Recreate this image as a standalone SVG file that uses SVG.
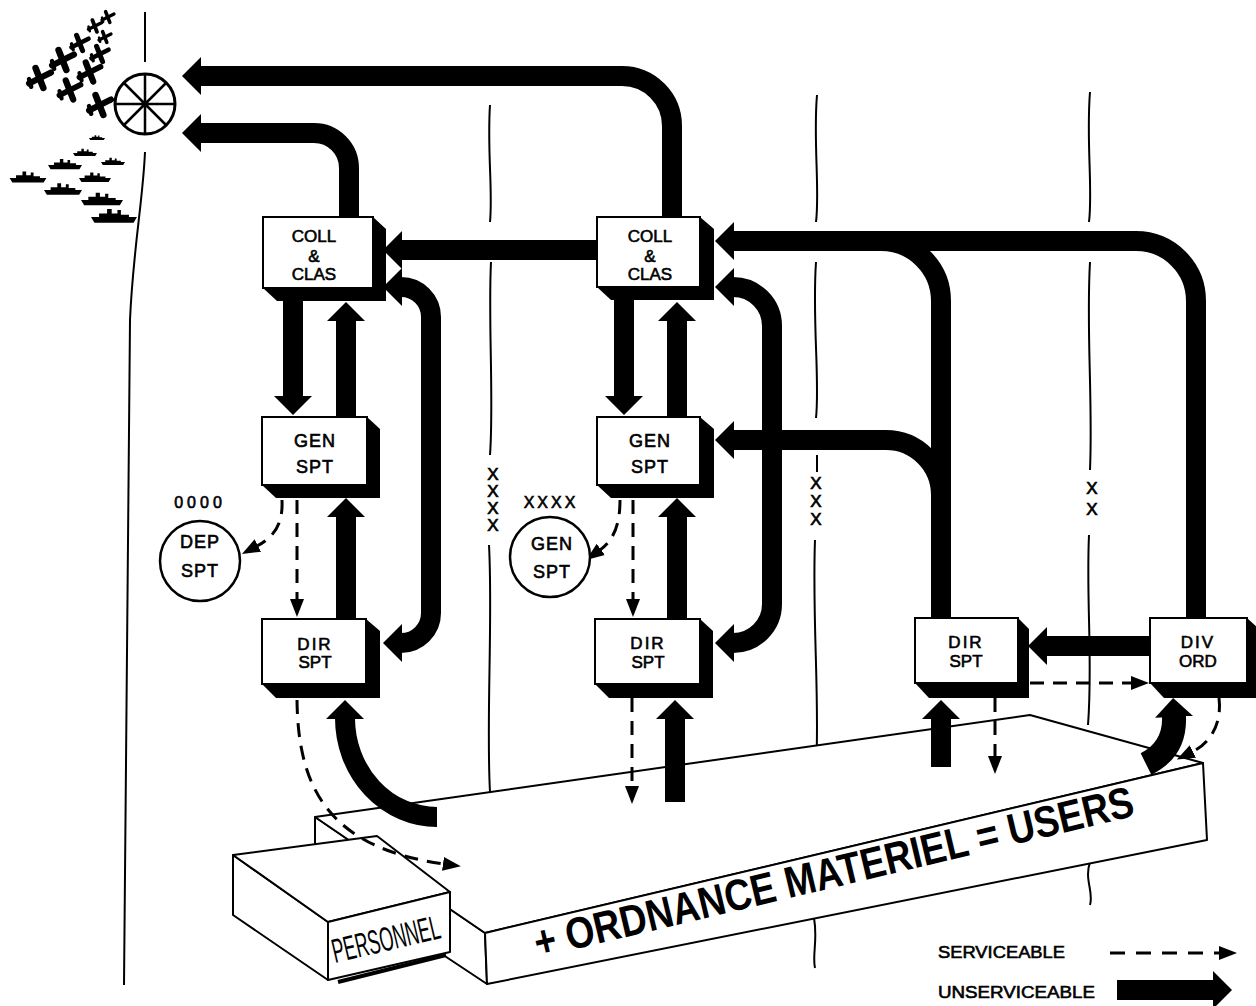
<svg xmlns="http://www.w3.org/2000/svg" width="1256" height="1006" viewBox="0 0 1256 1006">
<style>
.t{font-family:"Liberation Sans",Arial,sans-serif;fill:#000;text-anchor:middle}
.b{stroke:#000;stroke-width:0.6}
.n{font-size:17px}
.face{fill:#fff;stroke:#000;stroke-width:2}
.sh{fill:#000}
.u{fill:none;stroke:#000;stroke-width:20;marker-end:url(#hk)}
.ub{fill:none;stroke:#000;stroke-width:20}
.s{fill:none;stroke:#000;stroke-width:3;stroke-dasharray:14 9;marker-end:url(#hs)}
.ln{fill:none;stroke:#000;stroke-width:2}
.pl{fill:#fff;stroke:#000;stroke-width:2;stroke-linejoin:round}
.x{font-family:"Liberation Sans",Arial,sans-serif;font-size:17px;text-anchor:middle;fill:#000;stroke:#000;stroke-width:0.7}
</style>
<defs>
<marker id="hk" markerUnits="userSpaceOnUse" markerWidth="20" markerHeight="38" viewBox="0 0 20 38" refX="1" refY="19" orient="auto-start-reverse"><path d="M0,0 L19,19 L0,38 Z"/></marker>
<marker id="hs" markerUnits="userSpaceOnUse" markerWidth="18" markerHeight="16" viewBox="0 0 18 16" refX="1" refY="8" orient="auto"><path d="M0,1 L18,8 L0,15 Z"/></marker>
<g id="plane" stroke="#000" stroke-linecap="round" fill="none"><path d="M-10,5 L10,-5" stroke-width="5.5"/><path d="M-4,-9 L3,9" stroke-width="6"/><path d="M-10,1 L-8,8" stroke-width="4"/></g>
<path id="ship" d="M-20,0 L20,0 L17,5 L-17,5 Z M-13,0 V-3 H-6 V-7 H-2 V-3 H3 V-6 H6 V-2 H13 V0 Z"/>
</defs>
<rect width="1256" height="1006" fill="#fff"/>

<g id="fleet">
<use href="#plane" transform="translate(108,17) scale(0.6)"/>
<use href="#plane" transform="translate(95,26) scale(0.65)"/>
<use href="#plane" transform="translate(105,37) scale(0.6)"/>
<use href="#plane" transform="translate(80,43) scale(0.85)"/>
<use href="#plane" transform="translate(100,54) scale(0.85)"/>
<use href="#plane" transform="translate(63,60) scale(1.1)"/>
<use href="#plane" transform="translate(40,78) scale(1.1)"/>
<use href="#plane" transform="translate(90,72) scale(1.05)"/>
<use href="#plane" transform="translate(70,90) scale(1.05)"/>
<use href="#plane" transform="translate(100,105) scale(1.1)"/>
<use href="#ship" transform="translate(97,138) scale(0.4)"/>
<use href="#ship" transform="translate(85,153) scale(0.6)"/>
<use href="#ship" transform="translate(65,165) scale(0.85)"/>
<use href="#ship" transform="translate(113,162) scale(0.6)"/>
<use href="#ship" transform="translate(28,178) scale(0.92)"/>
<use href="#ship" transform="translate(95,178) scale(0.8)"/>
<use href="#ship" transform="translate(63,190) scale(0.95)"/>
<use href="#ship" transform="translate(102,200) scale(1.05)"/>
<use href="#ship" transform="translate(114,217) scale(1.15)"/>
</g>

<g id="wheel" fill="none" stroke="#000" stroke-width="3">
<circle cx="145" cy="104" r="30"/>
<path d="M145,74 V134 M115,104 H175 M124,83 L166,125 M166,83 L124,125" stroke-width="2.5"/>
</g>

<g id="boundaries">
<path class="ln" d="M145,12 V62"/>
<path class="ln" d="M145,152 C143,200 133,250 130,320 C128,500 126,700 124,985" stroke-width="3"/>
<path class="ln" d="M490,105 C487,150 493,190 490,222 M491,262 C488,320 494,400 490,455 M489,545 C493,620 486,720 490,792"/>
<path class="ln" d="M817,95 C813,140 820,190 816,222 M816,262 C812,320 820,380 816,418 M817,455 V472 M815,540 C812,620 820,700 816,770 M814,918 C818,940 812,955 815,968"/>
<path class="ln" d="M1090,92 C1086,140 1093,190 1089,222 M1090,262 C1086,330 1093,400 1090,470 M1089,535 C1086,600 1093,660 1088,725 M1090,862 C1084,880 1094,892 1090,905"/>
<text class="x" x="493" y="480">X</text><text class="x" x="493" y="497">X</text><text class="x" x="493" y="514">X</text><text class="x" x="493" y="531">X</text>
<text class="x" x="816" y="489">X</text><text class="x" x="816" y="507">X</text><text class="x" x="816" y="525">X</text>
<text class="x" x="1092" y="494">X</text><text class="x" x="1092" y="515">X</text>
</g>

<g id="platform">
<polygon class="pl" points="315,817 485,933 487,984 315,870"/>
<polygon class="pl" points="315,817 1030,715 1203,763 485,933"/>
<polygon class="pl" points="485,933 1203,763 1207,840 487,984"/>
<text class="t" style="text-anchor:start" transform="translate(538,958) rotate(-13.4)" font-size="44" font-weight="bold" textLength="615" lengthAdjust="spacingAndGlyphs">+ ORDNANCE MATERIEL = USERS</text>
</g>

<g id="personnel">
<polygon class="pl" points="233,855 328,922 328,980 233,915"/>
<polygon class="pl" points="233,855 377,836 450,892 328,922"/>
<polygon class="pl" points="328,922 450,892 450,952 328,980"/>
<path d="M338,982 L446,955" stroke="#000" stroke-width="4"/>
<text class="t" style="text-anchor:start" transform="translate(335,963) rotate(-13.2)" font-size="34" textLength="110" lengthAdjust="spacingAndGlyphs">PERSONNEL</text>
</g>

<g id="connectors">
<path class="u" d="M672,217 V126 A50,50 0 0 0 622,76 H200"/>
<path class="u" d="M349,217 V168 A35,35 0 0 0 314,133 H200"/>
<path class="u" d="M597,250 H401"/>
<path class="u" d="M1196,618 V301 A60,60 0 0 0 1136,241 H733"/>
<path class="ub" d="M941,618 V301 A60,60 0 0 0 881,241"/>
<path class="u" d="M941,520 V495 A55,55 0 0 0 886,440 H733"/>
<path class="u" d="M1150,646 H1046"/>
<path class="u" d="M293,300 V397"/>
<path class="u" d="M346,417 V320"/>
<path class="u" d="M346,619 V516"/>
<path class="u" style="marker-start:url(#hk)" d="M401,287 A30,30 0 0 1 431,317 V613 A30,30 0 0 1 401,643"/>
<path class="u" d="M437,817 A92,99 0 0 1 345,718"/>
<path class="u" d="M624,300 V397"/>
<path class="u" d="M677,417 V320"/>
<path class="u" d="M677,619 V516"/>
<path class="u" style="marker-start:url(#hk)" d="M733,287 A39,39 0 0 1 772,326 V604 A39,39 0 0 1 733,643"/>
<path class="u" d="M675,802 V718"/>
<path class="u" d="M941,767 V718"/>
<path class="u" style="stroke-width:24" d="M1146,764 C1166,754 1175,738 1174,716"/>
<path class="s" d="M282,500 C283,522 276,536 257,546"/>
<path class="s" d="M297,500 V600"/>
<path class="s" d="M297,700 C298,790 330,848 444,864"/>
<path class="s" d="M620,500 C620,524 614,540 600,550"/>
<path class="s" d="M633,500 V600"/>
<path class="s" d="M632,698 V787"/>
<path class="s" d="M1030,683 H1132"/>
<path class="s" d="M995,698 V757"/>
<path class="s" d="M1219,698 C1222,722 1212,742 1192,752"/>
</g>

<g id="n-coll1">
<polygon class="sh" points="373,217 386,229 386,301 277,301 263,288"/>
<rect class="face" x="263" y="217" width="110" height="71"/>
<text class="t n b" x="314" y="242">COLL</text><text class="t n b" x="314" y="262">&amp;</text><text class="t n b" x="314" y="280">CLAS</text>
</g>
<g id="n-gen1">
<polygon class="sh" points="367,417 380,429 380,498 276,498 262,485"/>
<rect class="face" x="262" y="417" width="105" height="68"/>
<text class="t b" font-size="18" x="315" y="447" letter-spacing="1">GEN</text><text class="t b" font-size="18" x="315" y="473" letter-spacing="1">SPT</text>
</g>
<g id="n-dir1">
<polygon class="sh" points="366,619 380,631 380,698 276,698 262,684"/>
<rect class="face" x="262" y="619" width="104" height="65"/>
<text class="t n b" x="315" y="650" letter-spacing="2">DIR</text><text class="t n b" x="315" y="668">SPT</text>
</g>
<g id="n-coll2">
<polygon class="sh" points="700,217 714,229 714,300 611,300 597,287"/>
<rect class="face" x="597" y="217" width="103" height="70"/>
<text class="t n b" x="650" y="242">COLL</text><text class="t n b" x="650" y="262">&amp;</text><text class="t n b" x="650" y="280">CLAS</text>
</g>
<g id="n-gen2">
<polygon class="sh" points="700,417 714,429 714,498 611,498 597,485"/>
<rect class="face" x="597" y="417" width="103" height="68"/>
<text class="t b" font-size="18" x="650" y="447" letter-spacing="1">GEN</text><text class="t b" font-size="18" x="650" y="473" letter-spacing="1">SPT</text>
</g>
<g id="n-dir2">
<polygon class="sh" points="700,619 713,631 713,698 609,698 595,684"/>
<rect class="face" x="595" y="619" width="105" height="65"/>
<text class="t n b" x="648" y="649" letter-spacing="2">DIR</text><text class="t n b" x="648" y="668">SPT</text>
</g>
<g id="n-dir3">
<polygon class="sh" points="1018,618 1029,629 1029,698 929,698 915,683"/>
<rect class="face" x="915" y="618" width="103" height="65"/>
<text class="t n b" x="966" y="648" letter-spacing="2">DIR</text><text class="t n b" x="966" y="667">SPT</text>
</g>
<g id="n-divord">
<polygon class="sh" points="1247,618 1260,630 1260,698 1164,698 1150,683"/>
<rect class="face" x="1150" y="618" width="97" height="65"/>
<text class="t n b" x="1198" y="648" letter-spacing="2">DIV</text><text class="t n b" x="1198" y="667">ORD</text>
</g>
<g id="n-dep">
<text class="t b" font-size="16" x="200" y="508" letter-spacing="4">0000</text>
<circle cx="200" cy="561" r="40" fill="#fff" stroke="#000" stroke-width="2.5"/>
<text class="t b" font-size="18" x="200" y="548" letter-spacing="1">DEP</text><text class="t b" font-size="18" x="200" y="577" letter-spacing="1">SPT</text>
</g>
<g id="n-gencirc">
<text class="t b" font-size="16" x="551" y="508" letter-spacing="3">XXXX</text>
<circle cx="550" cy="557" r="40" fill="#fff" stroke="#000" stroke-width="2.5"/>
<text class="t b" font-size="18" x="552" y="550" letter-spacing="1">GEN</text><text class="t b" font-size="18" x="552" y="578" letter-spacing="1">SPT</text>
</g>

<g id="legend">
<text class="t b" style="text-anchor:start" x="938" y="958" font-size="17" textLength="127" lengthAdjust="spacingAndGlyphs">SERVICEABLE</text>
<path class="s" style="stroke-dasharray:15 11" d="M1110,953 H1220"/>
<text class="t b" style="text-anchor:start" x="938" y="998" font-size="17" textLength="157" lengthAdjust="spacingAndGlyphs">UNSERVICEABLE</text>
<path class="u" d="M1117,990 H1214"/>
</g>
</svg>
